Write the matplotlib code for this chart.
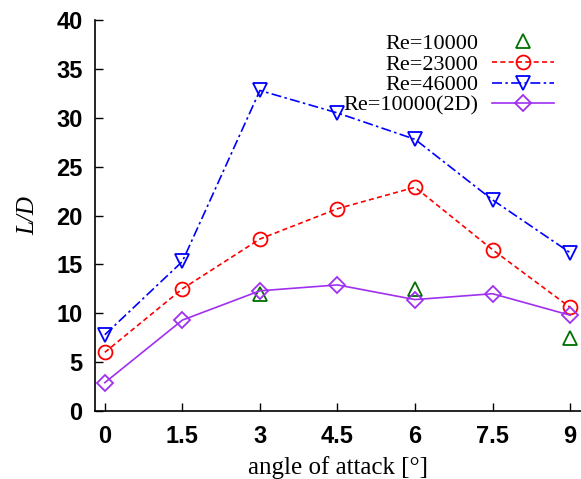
import matplotlib
matplotlib.use("Agg")
import matplotlib.pyplot as plt

# angle of attack [deg]
alpha = [0, 1.5, 3, 4.5, 6, 7.5, 9]
alpha_re10k = [3, 6, 9]

ld_re10k = [12.0, 12.5, 7.5]
ld_re23k = [6.0, 12.5, 17.6, 20.7, 22.9, 16.5, 10.6]
ld_re46k = [7.8, 15.3, 32.8, 30.5, 27.8, 21.6, 16.2]
ld_re10k_2d = [2.9, 9.3, 12.3, 12.9, 11.4, 12.0, 9.8]

xticks = [0, 1.5, 3, 4.5, 6, 7.5, 9]
xticklabels = ["0", "1.5", "3", "4.5", "6", "7.5", "9"]
yticks = [0, 5, 10, 15, 20, 25, 30, 35, 40]

fig = plt.figure(figsize=(5.81, 4.79), dpi=100)
ax = fig.add_axes([0.1635, 0.142, 0.8365, 0.816])

ms = 10
ax.plot(alpha_re10k, ld_re10k, linestyle="none", marker="^", ms=ms, mfc="none",
        mec="#007000", mew=1.3, label="Re=10000")
ax.plot(alpha, ld_re23k, color="red", linestyle=(0, (3, 2)), lw=1.2, marker="o",
        ms=ms, mfc="none", mew=1.3, label="Re=23000")
ax.plot(alpha, ld_re46k, color="blue", linestyle=(0, (6, 2, 1.5, 2)), lw=1.2, marker="v",
        ms=ms, mfc="none", mew=1.3, label="Re=46000")
ax.plot(alpha, ld_re10k_2d, color="#a030f0", linestyle="-", lw=1.2, marker="D",
        ms=8.5, mfc="none", mew=1.3, label="Re=10000(2D)")

ax.set_xlim(-0.19, 9.21)
ax.set_ylim(0, 40)
ax.set_xticks(xticks)
ax.set_xticklabels(xticklabels)
ax.set_yticks(yticks)
ax.tick_params(direction="in", length=6, width=1, labelsize=17)
ax.tick_params(axis="x", pad=10)
ax.tick_params(axis="y", pad=9)
for lbl in ax.get_xticklabels() + ax.get_yticklabels():
    lbl.set_fontfamily("Liberation Sans")
    lbl.set_fontweight("bold")

for side in ["top", "right"]:
    ax.spines[side].set_visible(False)
for side in ["left", "bottom"]:
    ax.spines[side].set_linewidth(1.2)

ax.set_xlabel("angle of attack [°]", fontfamily="Liberation Serif", fontsize=18, labelpad=6)
ax.set_ylabel("L/D", fontfamily="Liberation Serif", fontstyle="italic", fontsize=18, labelpad=12)

leg = ax.legend(loc="upper right", bbox_to_anchor=(0.977, 1.005), frameon=False,
                markerfirst=False, handlelength=2.8, labelspacing=0.0, handletextpad=0.6,
                borderpad=0.2,
                prop={"family": "Liberation Serif", "size": 16})
for t in leg.get_texts():
    t.set_ha("right")
leg._legend_box.align = "right"

fig.savefig("out.png", dpi=100)
